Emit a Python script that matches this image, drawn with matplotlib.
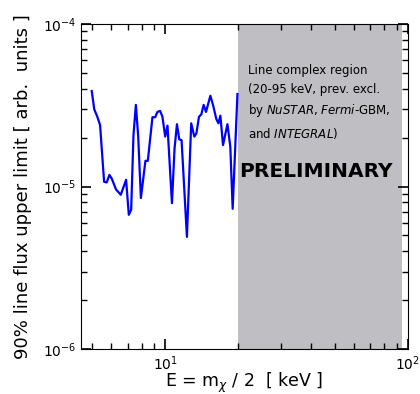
import matplotlib
matplotlib.use("Agg")
import matplotlib.pyplot as plt
from matplotlib.ticker import NullFormatter

# energies [keV] and 90% flux upper limits
energy = [4.98, 5.10, 5.25, 5.39, 5.60, 5.74, 5.89, 6.02, 6.27, 6.56,
          6.90, 7.08, 7.24, 7.40, 7.57, 7.74, 7.94, 8.29, 8.48, 8.86,
          9.09, 9.29, 9.53, 9.74, 10.0, 10.22, 10.66, 10.93, 11.18, 11.43,
          11.68, 12.29, 12.80, 13.18, 13.44, 13.78, 14.09, 14.40, 14.73, 15.35,
          15.74, 16.25, 16.57, 16.88, 17.31, 18.05, 18.55, 18.97, 19.85]
flux_ul = [3.87e-5, 2.99e-5, 2.69e-5, 2.39e-5, 1.07e-5, 1.06e-5, 1.18e-5, 1.12e-5, 9.6e-6, 8.9e-6,
           1.10e-5, 6.7e-6, 7.2e-6, 2.07e-5, 3.18e-5, 2.03e-5, 8.5e-6, 1.44e-5, 1.44e-5, 2.67e-5,
           2.67e-5, 2.88e-5, 2.92e-5, 2.69e-5, 2.03e-5, 2.37e-5, 7.9e-6, 1.72e-5, 2.42e-5, 1.95e-5,
           1.93e-5, 4.9e-6, 2.45e-5, 2.03e-5, 2.12e-5, 2.69e-5, 2.78e-5, 3.18e-5, 2.88e-5, 3.62e-5,
           3.18e-5, 2.60e-5, 2.45e-5, 2.73e-5, 1.80e-5, 2.42e-5, 1.76e-5, 7.3e-6, 3.71e-5]

excl_lo, excl_hi = 20, 95  # line complex region [keV]

fig = plt.figure(figsize=(4.2, 3.94), dpi=100)
ax = fig.add_axes([0.193, 0.114, 0.778, 0.825])

ax.axvspan(excl_lo, excl_hi, color="#bebec3", lw=0, zorder=0)
ax.plot(energy, flux_ul, color="blue", lw=1.6)

ax.set_xscale("log")
ax.set_yscale("log")
ax.set_xlim(4.5, 100)
ax.set_ylim(1e-6, 1e-4)
ax.xaxis.set_minor_formatter(NullFormatter())
ax.tick_params(which="both", direction="in", top=True, right=True, labelsize=10)
ax.tick_params(which="major", length=7, width=1.2)
ax.tick_params(which="minor", length=4, width=1)

ax.set_xlabel(r"E = m$_\chi$ / 2  [ keV ]", fontsize=12.5, labelpad=-1.5)
ax.set_ylabel("90% line flux upper limit [ arb.  units ]", fontsize=13, labelpad=8)

ax.text(0.51, 0.877,
        "Line complex region\n(20-95 keV, prev. excl.\n"
        r"by $\it{NuSTAR}$, $\it{Fermi}$-GBM," "\n" r"and $\it{INTEGRAL}$)",
        transform=ax.transAxes, fontsize=8.5, va="top", ha="left", linespacing=1.55)
ax.text(0.718, 0.545, "PRELIMINARY", transform=ax.transAxes, fontsize=14.5,
        fontweight="bold", ha="center", va="center")

fig.savefig("out.png", dpi=100)
